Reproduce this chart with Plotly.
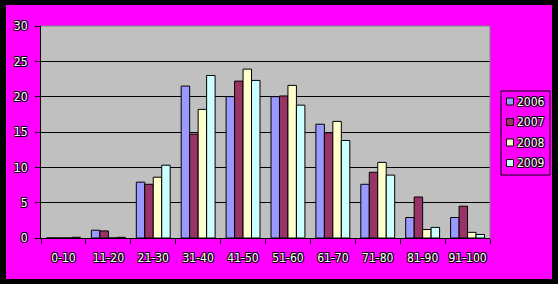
import plotly.graph_objects as go

categories = ["0-10", "11-20", "21-30", "31-40", "41-50", "51-60", "61-70", "71-80", "81-90", "91-100"]
series_names = ["2006", "2007", "2008", "2009"]
v2006 = [0, 1.1, 7.9, 21.5, 20.0, 20.0, 16.1, 7.6, 2.9, 2.9]
v2007 = [0, 1.0, 7.6, 14.7, 22.2, 20.1, 14.9, 9.3, 5.8, 4.5]
v2008 = [0, 0, 8.6, 18.2, 23.9, 21.6, 16.5, 10.7, 1.2, 0.8]
v2009 = [0.1, 0.1, 10.3, 23.0, 22.3, 18.8, 13.8, 8.9, 1.5, 0.5]
series_values = [v2006, v2007, v2008, v2009]
colors = ["#9999FF", "#993366", "#FFFFCC", "#CCFFFF"]
y_ticks = [0, 5, 10, 15, 20, 25, 30]

W, H = 558, 284
ML, MR, MT, MB = 41, 68, 26, 46
PW, PH = W - ML - MR, H - MT - MB

def xp(px):
    return (px - ML) / PW

def yp(py):
    return (H - MB - py) / PH

FONT = "Liberation Sans Narrow, Arial Narrow, DejaVu Sans Condensed, sans-serif"
SHADOW = "-1px -1px 0 #000, 1px -1px 0 #000, -1px 1px 0 #000, 1px 1px 0 #000"

fig = go.Figure()
for name, vals, col in zip(series_names, series_values, colors):
    fig.add_trace(go.Bar(x=categories, y=vals, name=name,
                         marker=dict(color=col, line=dict(color="black", width=1)),
                         showlegend=False))

shapes = []
# black outer border
for x0, y0, x1, y1 in [(0, 0, 6, H), (552, 0, W, H), (0, 0, W, 5), (0, 279, W, H)]:
    shapes.append(dict(type="rect", xref="paper", yref="paper",
                       x0=xp(x0), x1=xp(x1), y0=yp(y0), y1=yp(y1),
                       fillcolor="black", line=dict(width=0), layer="above"))
# plot area top/right border (gray)
shapes.append(dict(type="line", xref="paper", yref="paper", x0=0, x1=1, y0=1, y1=1,
                   line=dict(color="#808080", width=1), layer="above"))
shapes.append(dict(type="line", xref="paper", yref="paper", x0=1, x1=1, y0=0, y1=1,
                   line=dict(color="#808080", width=1), layer="above"))

# manual legend
lx0, lx1, ly0, ly1 = 501, 550, 91, 175
shapes.append(dict(type="rect", xref="paper", yref="paper",
                   x0=xp(lx0), x1=xp(lx1), y0=yp(ly0), y1=yp(ly1),
                   fillcolor="rgba(0,0,0,0)", line=dict(color="black", width=1), layer="above"))
annotations = []
for i, (name, col) in enumerate(zip(series_names, colors)):
    cy = 101.5 + i * 20.5
    shapes.append(dict(type="rect", xref="paper", yref="paper",
                       x0=xp(506.5), x1=xp(513.5), y0=yp(cy - 3.5), y1=yp(cy + 3.5),
                       fillcolor=col, line=dict(color="black", width=1), layer="above"))
    annotations.append(dict(xref="paper", yref="paper", x=xp(515), y=yp(cy),
                            xanchor="left", yanchor="middle", showarrow=False,
                            text=name, font=dict(family=FONT, size=12, color="white", shadow=SHADOW)))

fig.update_layout(
    width=W, height=H,
    margin=dict(l=ML, r=MR, t=MT, b=MB, pad=0, autoexpand=False),
    paper_bgcolor="#FF00FF",
    plot_bgcolor="#C0C0C0",
    barmode="group",
    bargap=0.245,
    bargroupgap=0,
    showlegend=False,
    shapes=shapes,
    annotations=annotations,
    xaxis=dict(
        type="category",
        automargin=False,
        tickangle=0,
        showline=True, linecolor="black", linewidth=1,
        ticks="outside", ticklen=5, tickcolor="black", tickwidth=1,
        tickson="boundaries",
        showgrid=False,
        ticklabelstandoff=9,
        tickfont=dict(family=FONT, size=12, color="white", shadow=SHADOW),
    ),
    yaxis=dict(
        range=[0, 30],
        automargin=False,
        tickvals=y_ticks,
        showline=True, linecolor="black", linewidth=1,
        ticks="outside", ticklen=5, tickcolor="black", tickwidth=1,
        showgrid=True, gridcolor="black", gridwidth=1,
        zeroline=False,
        ticklabelstandoff=5,
        tickfont=dict(family=FONT, size=12, color="white", shadow=SHADOW),
    ),
)

fig.write_html("out.html")
